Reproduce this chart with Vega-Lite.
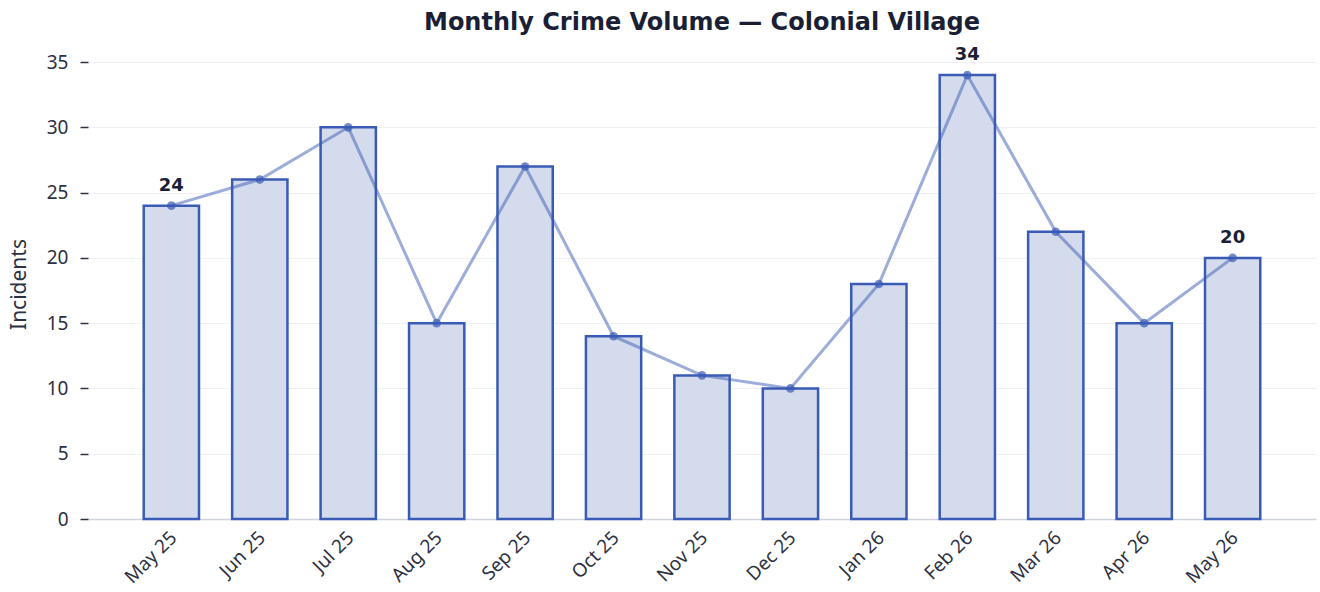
{
  "$schema": "https://vega.github.io/schema/vega-lite/v6.json",
  "autosize": {"type": "none"},
  "width": 1228,
  "height": 470,
  "padding": {"left": 88, "top": 49, "right": 4, "bottom": 73},
  "background": "white",
  "title": {
    "text": "Monthly Crime Volume — Colonial Village",
    "font": "DejaVu Sans",
    "fontSize": 24,
    "fontWeight": "bold",
    "color": "#1a1f36",
    "anchor": "middle",
    "offset": 11
  },
  "config": {
    "view": {"stroke": null},
    "font": "Noto Sans"
  },
  "data": {
    "values": [
      {"month": "May 25", "incidents": 24},
      {"month": "Jun 25", "incidents": 26},
      {"month": "Jul 25", "incidents": 30},
      {"month": "Aug 25", "incidents": 15},
      {"month": "Sep 25", "incidents": 27},
      {"month": "Oct 25", "incidents": 14},
      {"month": "Nov 25", "incidents": 11},
      {"month": "Dec 25", "incidents": 10},
      {"month": "Jan 26", "incidents": 18},
      {"month": "Feb 26", "incidents": 34},
      {"month": "Mar 26", "incidents": 22},
      {"month": "Apr 26", "incidents": 15},
      {"month": "May 26", "incidents": 20}
    ]
  },
  "encoding": {
    "x": {
      "field": "month",
      "type": "ordinal",
      "sort": null,
      "scale": {"paddingInner": 0.375, "paddingOuter": 0.63},
      "axis": {
        "title": null,
        "labelAngle": -45,
        "labelAlign": "right",
        "labelBaseline": "top",
        "labelFont": "Noto Sans",
        "labelFontSize": 19,
        "labelColor": "#2d3142",
        "labelPadding": 9,
        "labelOffset": -4,
        "ticks": false,
        "domainColor": "#cfd2df",
        "domainWidth": 1.5,
        "grid": false
      }
    },
    "y": {
      "field": "incidents",
      "type": "quantitative",
      "scale": {"domain": [0, 36], "nice": false},
      "axis": {
        "title": "Incidents",
        "titleFont": "Noto Sans",
        "titleFontSize": 21,
        "titleFontWeight": "normal",
        "titleColor": "#2d3142",
        "titlePadding": 17,
        "values": [0, 5, 10, 15, 20, 25, 30, 35],
        "labelFont": "Noto Sans",
        "labelFontSize": 19,
        "labelColor": "#2d3142",
        "labelPadding": 12,
        "tickSize": 8,
        "tickColor": "#2d3142",
        "tickWidth": 1.5,
        "domain": false,
        "gridColor": "#eef0f5",
        "gridWidth": 1
      }
    }
  },
  "layer": [
    {
      "mark": {"type": "bar", "fill": "#d4dbec", "stroke": "#3a5bb5", "strokeWidth": 2.5}
    },
    {
      "mark": {"type": "line", "color": "#3a5bb5", "opacity": 0.5, "strokeWidth": 3}
    },
    {
      "mark": {"type": "point", "filled": true, "color": "#3a5bb5", "opacity": 0.7, "size": 75}
    },
    {
      "transform": [{"filter": "datum.month == 'May 25' || datum.month == 'Feb 26' || datum.month == 'May 26'"}],
      "mark": {"type": "text", "dy": -20, "font": "DejaVu Sans", "fontSize": 18, "fontWeight": "bold", "color": "#1a1f36"},
      "encoding": {"text": {"field": "incidents", "type": "quantitative"}}
    }
  ]
}
